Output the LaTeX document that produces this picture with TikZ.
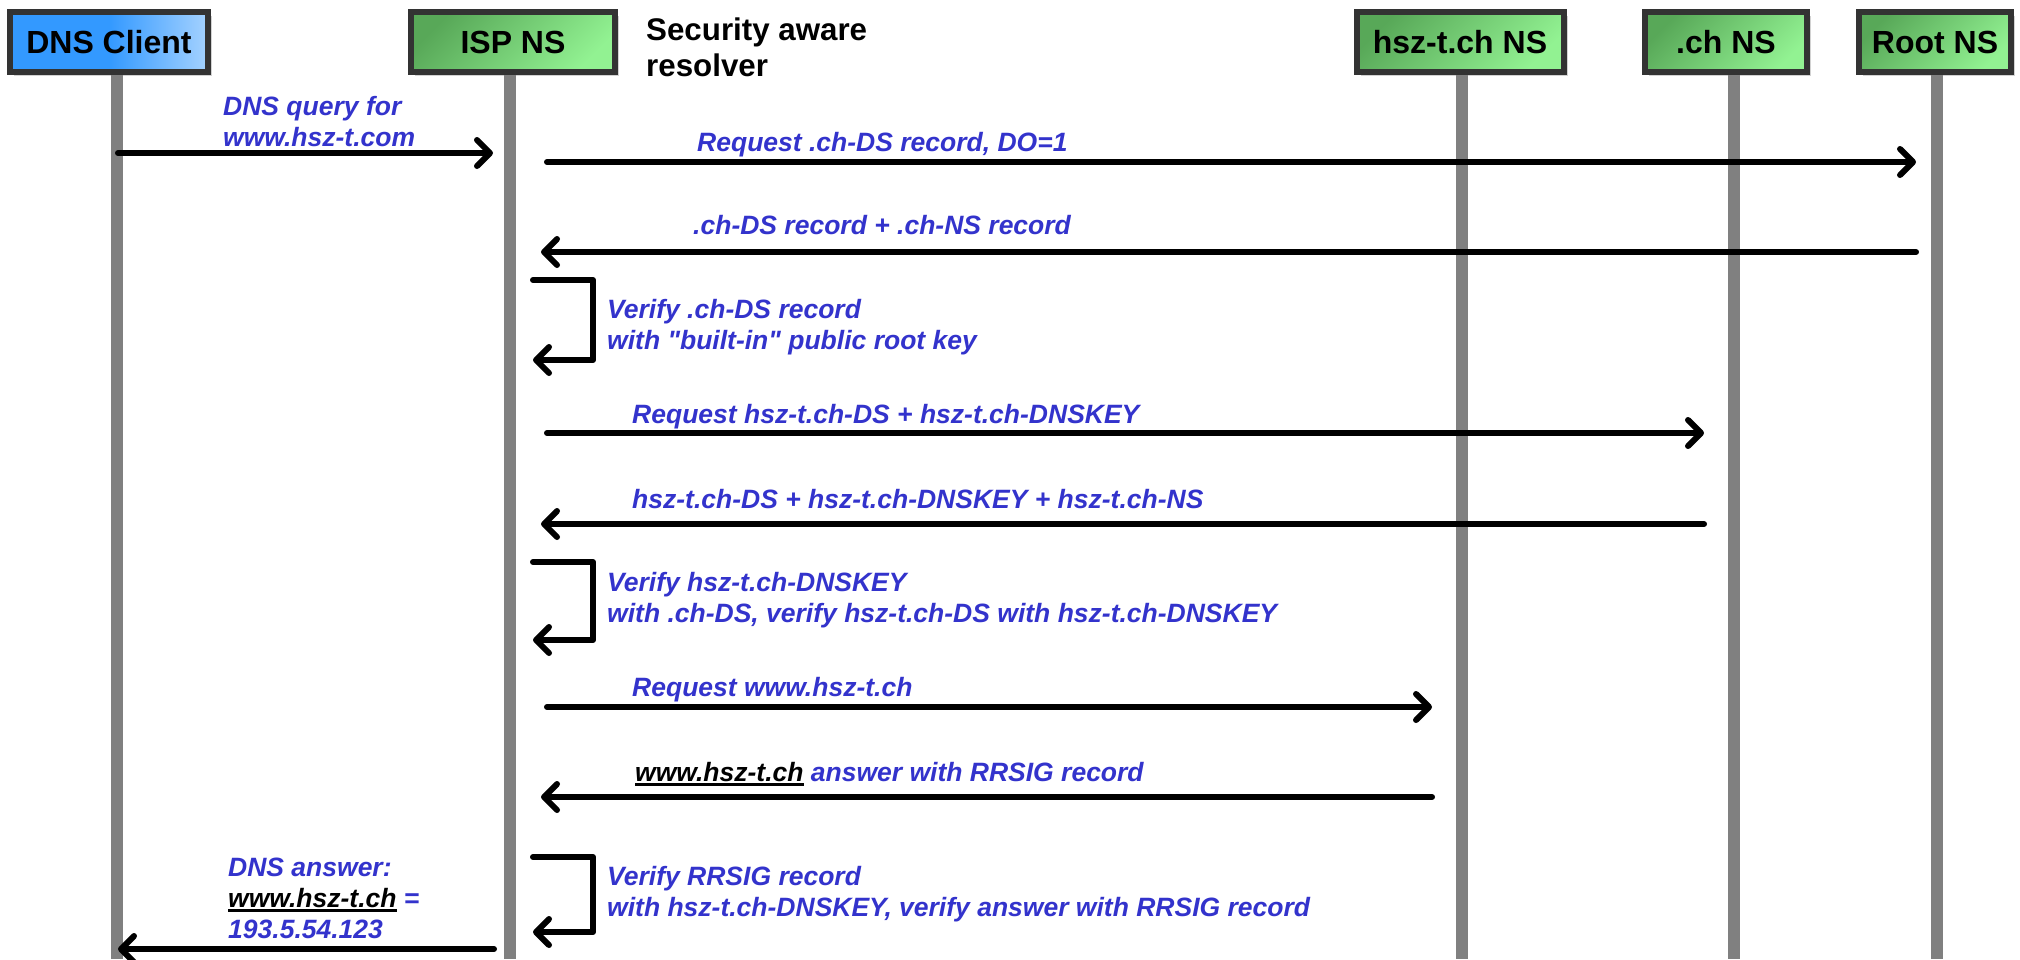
\documentclass[tikz,border=0pt]{standalone}
\usepackage{fontspec}
\setmainfont[Ligatures=TeXOff]{Liberation Sans}
\usetikzlibrary{arrows.meta,shadows}
\definecolor{lblue}{RGB}{51,51,204}
\definecolor{lifegray}{RGB}{128,128,128}
\definecolor{boxborder}{RGB}{51,51,51}
\definecolor{gdark}{RGB}{88,168,88}
\definecolor{glight}{RGB}{146,242,146}
\definecolor{bdark}{RGB}{51,153,255}
\definecolor{blight}{RGB}{165,210,255}
\newcommand{\myul}[1]{\setbox0\hbox{#1}\rlap{\rule[-5pt]{\wd0}{2.6pt}}\box0}
\begin{document}
\begin{tikzpicture}[x=1pt,y=-1pt,
  hdr/.style={draw=boxborder, line width=6pt, minimum height=60pt, inner sep=0pt,
    text height=22.9pt, text depth=0pt,
    font=\fontsize{32}{37}\selectfont\bfseries,
    drop shadow={shadow xshift=4pt, shadow yshift=-4pt, opacity=0.35}},
  greenhdr/.style={hdr, top color=gdark, bottom color=glight, shading angle=45},
  bluehdr/.style={hdr, left color=bdark, right color=blight, middle color=bdark},
  lifeline/.style={draw=lifegray, line width=12pt},
  msg/.style={line width=6pt, line cap=round, line join=round,
    -{Straight Barb[length=13pt,width=26pt,line cap=round,line join=round]}},
  loopline/.style={msg},
  lbl/.style={anchor=base west, inner sep=0pt, align=left, text=lblue,
    font=\fontsize{26.5}{31}\selectfont\bfseries\itshape},
  note/.style={anchor=base west, inner sep=0pt, align=left,
    font=\fontsize{31.3}{36}\selectfont\bfseries}
]
\useasboundingbox (0,0) rectangle (2020,959);
\fill[white] (0,0) rectangle (2020,959);

% lifelines
\coordinate (dnsT) at (117,70);  \coordinate (dnsB) at (117,959);
\coordinate (ispT) at (510,70);  \coordinate (ispB) at (510,959);
\coordinate (hszT) at (1462,70); \coordinate (hszB) at (1462,959);
\coordinate (chT)  at (1734,70); \coordinate (chB)  at (1734,959);
\coordinate (rootT) at (1937,70); \coordinate (rootB) at (1937,959);
\draw[lifeline] (dnsT) -- (dnsB);
\draw[lifeline] (ispT) -- (ispB);
\draw[lifeline] (hszT) -- (hszB);
\draw[lifeline] (chT) -- (chB);
\draw[lifeline] (rootT) -- (rootB);

% header boxes
\node[bluehdr, minimum width=198pt] (dns) at (109,42) {DNS Client};
\node[greenhdr, minimum width=204pt] (isp) at (513,42) {ISP NS};
\node[greenhdr, minimum width=207pt] (hsz) at (1460,42) {hsz-t.ch NS};
\node[greenhdr, minimum width=162pt] (ch) at (1726,42) {.ch NS};
\node[greenhdr, minimum width=152pt] (root) at (1935,42) {Root NS};
\node[note] (sec) at (646,76) {Security aware\\resolver};

% message end points
\coordinate (a1s) at (118,153);  \coordinate (a1e) at (493,153);
\coordinate (a2s) at (547,162);  \coordinate (a2e) at (1916,162);
\coordinate (a3s) at (1916,252); \coordinate (a3e) at (541,252);
\coordinate (a5s) at (547,433);  \coordinate (a5e) at (1704,433);
\coordinate (a6s) at (1704,524); \coordinate (a6e) at (541,524);
\coordinate (a8s) at (547,707);  \coordinate (a8e) at (1432,707);
\coordinate (a9s) at (1432,797); \coordinate (a9e) at (541,797);
\coordinate (a11s) at (494,949); \coordinate (a11e) at (118,949);

\draw[msg] (a1s) -- (a1e);
\draw[msg] (a2s) -- (a2e);
\draw[msg] (a3s) -- (a3e);
\draw[msg] (a5s) -- (a5e);
\draw[msg] (a6s) -- (a6e);
\draw[msg] (a8s) -- (a8e);
\draw[msg] (a9s) -- (a9e);
\draw[msg] (a11s) -- (a11e);

% self loops
\coordinate (l1a) at (533,280); \coordinate (l1b) at (593,280);
\coordinate (l1c) at (593,360); \coordinate (l1d) at (533,360);
\coordinate (l2a) at (533,562); \coordinate (l2b) at (593,562);
\coordinate (l2c) at (593,640); \coordinate (l2d) at (533,640);
\coordinate (l3a) at (533,857); \coordinate (l3b) at (593,857);
\coordinate (l3c) at (593,932); \coordinate (l3d) at (533,932);
\draw[loopline] (l1a) -- (l1b) -- (l1c) -- (l1d);
\draw[loopline] (l2a) -- (l2b) -- (l2c) -- (l2d);
\draw[loopline] (l3a) -- (l3b) -- (l3c) -- (l3d);

% labels (base = baseline of last line)
\node[lbl] (t1) at (223,146) {DNS query for\\www.hsz-t.com};
\node[lbl] (t2) at (697,151) {Request .ch-DS record, DO=1};
\node[lbl] (t3) at (693,234) {.ch-DS record + .ch-NS record};
\node[lbl] (t4) at (607,349) {Verify .ch-DS record\\with "built-in" public root key};
\node[lbl] (t5) at (632,423) {Request hsz-t.ch-DS + hsz-t.ch-DNSKEY};
\node[lbl] (t6) at (632,508) {hsz-t.ch-DS + hsz-t.ch-DNSKEY + hsz-t.ch-NS};
\node[lbl] (t7) at (607,622) {Verify hsz-t.ch-DNSKEY\\with .ch-DS, verify hsz-t.ch-DS with hsz-t.ch-DNSKEY};
\node[lbl] (t8) at (632,696) {Request www.hsz-t.ch};
\node[lbl] (t9) at (635,781) {\textcolor{black}{\myul{www.hsz-t.ch}} answer with RRSIG record};
\node[lbl] (t10) at (607,916) {Verify RRSIG record\\with hsz-t.ch-DNSKEY, verify answer with RRSIG record};
\node[lbl] (t11) at (228,938) {DNS answer:\\\textcolor{black}{\myul{www.hsz-t.ch}} =\\193.5.54.123};
\end{tikzpicture}
\end{document}
